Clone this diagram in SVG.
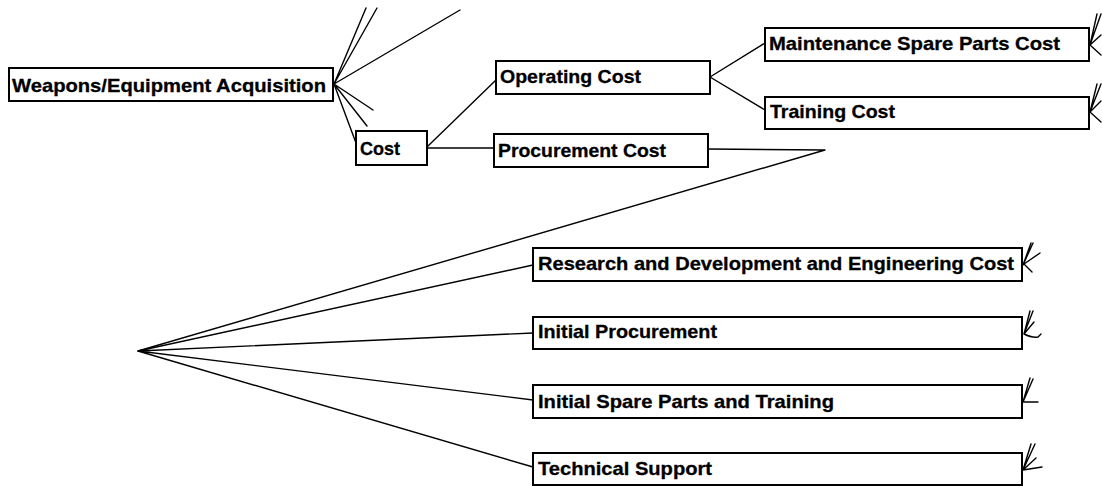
<svg xmlns="http://www.w3.org/2000/svg" width="1102" height="486" viewBox="0 0 1102 486">
<style>
.box{fill:#fff;stroke:#000;stroke-width:2}
.t{font-family:"Liberation Sans",Arial,sans-serif;font-weight:bold;font-size:19px;fill:#000;stroke:#000;stroke-width:0.3}
.c{fill:none;stroke:#000;stroke-width:1.4;stroke-linejoin:round;stroke-linecap:round}
</style>
<rect width="1102" height="486" fill="#fff"/>
<g id="connectors" class="c">
<path d="M334,84 L366,8 M334,84 L377,8 M334,84 L460,10 M334,84 L373,110 M334,84 L367,126 M334,84 L356,143"/>
<path d="M428,146 L496,80 M428,148 L494,148"/>
<path d="M710,77 L765,43 M710,77 L765,110"/>
<path d="M708,149 L825,150 L138,351"/>
<path d="M138,351 L533,265 M138,351 L533,333 M138,351 L533,400 M138,351 L533,467"/>
<g id="stubs">
<path d="M1090,45 L1097,14 M1090,45 L1101,14 M1101,35 L1090,45 L1101,55"/>
<path d="M1090,112 L1097,84 M1090,112 L1101,84 M1101,101 L1090,112 L1101,122"/>
<path d="M1023,265 L1031,243 M1023,265 L1033,243 M1040,253 L1024,264 L1032,272"/>
<path d="M1024,334 L1030,311 M1024,334 L1033,311 M1024,334 L1034,322 M1024,334 Q1032,338 1038,337 L1041,334"/>
<path d="M1023,402 L1030,378 M1023,402 L1033,379 M1023,402 L1038,402"/>
<path d="M1023,470 L1031,444 M1023,470 L1035,444 M1023,470 L1036,458 M1023,470 L1042,467"/>
</g>
</g>
<g id="weapons"><rect class="box" x="9" y="68" width="324" height="33"/><text class="t" x="12" y="92" textLength="314" lengthAdjust="spacingAndGlyphs">Weapons/Equipment Acquisition</text></g>
<g id="cost"><rect class="box" x="356" y="131" width="71" height="34"/><text class="t" x="360" y="155" textLength="40" lengthAdjust="spacingAndGlyphs">Cost</text></g>
<g id="operating"><rect class="box" x="496" y="61" width="214" height="33"/><text class="t" x="500" y="83" textLength="141" lengthAdjust="spacingAndGlyphs">Operating Cost</text></g>
<g id="procurement"><rect class="box" x="494" y="134" width="214" height="33"/><text class="t" x="498" y="157" textLength="168" lengthAdjust="spacingAndGlyphs">Procurement Cost</text></g>
<g id="maintenance"><rect class="box" x="765" y="28" width="324" height="33"/><text class="t" x="769" y="50" textLength="291" lengthAdjust="spacingAndGlyphs">Maintenance Spare Parts Cost</text></g>
<g id="training"><rect class="box" x="765" y="97" width="324" height="32"/><text class="t" x="770" y="118" textLength="125" lengthAdjust="spacingAndGlyphs">Training Cost</text></g>
<g id="rnd"><rect class="box" x="533" y="248" width="489" height="33"/><text class="t" x="538" y="270" textLength="476" lengthAdjust="spacingAndGlyphs">Research and Development and Engineering Cost</text></g>
<g id="initial-procurement"><rect class="box" x="533" y="317" width="489" height="32"/><text class="t" x="538" y="338" textLength="179" lengthAdjust="spacingAndGlyphs">Initial Procurement</text></g>
<g id="initial-spare"><rect class="box" x="533" y="385" width="489" height="33"/><text class="t" x="538" y="408" textLength="296" lengthAdjust="spacingAndGlyphs">Initial Spare Parts and Training</text></g>
<g id="technical"><rect class="box" x="533" y="453" width="489" height="32"/><text class="t" x="538" y="475" textLength="174" lengthAdjust="spacingAndGlyphs">Technical Support</text></g>
</svg>
